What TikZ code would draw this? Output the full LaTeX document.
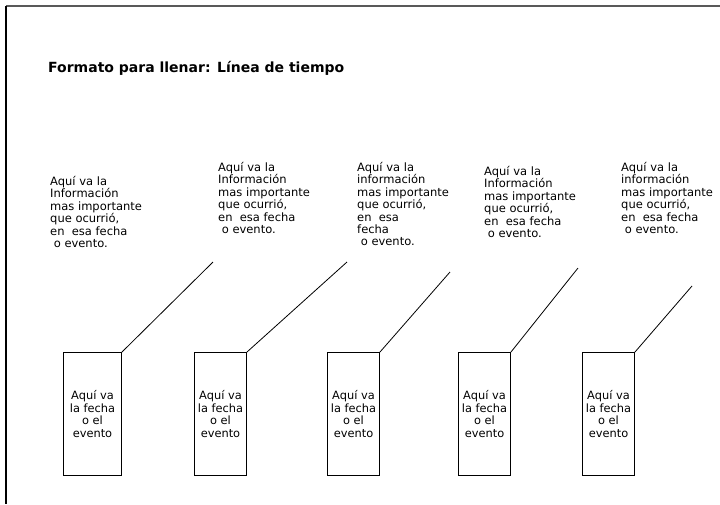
\documentclass[tikz,border=0pt]{standalone}
\usepackage{fontspec}
\setmainfont{DejaVu Sans}
\begin{document}
\begin{tikzpicture}[x=1pt,y=-1pt,
  info/.style={anchor=north west,inner sep=0pt,align=left,font=\fontsize{11.5}{12.4}\selectfont},
  datebox/.style={draw,line width=1pt,minimum width=52pt,minimum height=123pt,inner sep=0pt,align=center,font=\fontsize{11.4}{12.8}\selectfont,anchor=north west},
  link/.style={line width=0.8pt}]
\useasboundingbox (0,0) rectangle (720,504);
\draw[line width=2pt,gray!70!black] (6,6) -- (720,6);
\draw[line width=1.6pt] (6,6) -- (6,504);
\node[anchor=west,inner sep=0pt,font=\fontsize{14}{16}\selectfont\bfseries] (title) at (48,68) {Formato para llenar: Línea de tiempo};
\node[info] (t1) at (50,176) {Aquí va la\\Información\\mas importante\\que ocurrió,\\en~~esa fecha\\~o evento.};
\node[info] (t2) at (218,162) {Aquí va la\\Información\\mas importante\\que ocurrió,\\en~~esa fecha\\~o evento.};
\node[info] (t3) at (357,162) {Aquí va la\\información\\mas importante\\que ocurrió,\\en~~esa\\fecha\\~o evento.};
\node[info] (t4) at (484,166) {Aquí va la\\Información\\mas importante\\que ocurrió,\\en~~esa fecha\\~o evento.};
\node[info] (t5) at (621,162) {Aquí va la\\información\\mas importante\\que ocurrió,\\en~~esa fecha\\~o evento.};
\node[datebox,minimum width=58pt] (b1) at (63,352) {Aquí va\\la fecha\\o el\\evento};
\node[datebox] (b2) at (194,352) {Aquí va\\la fecha\\o el\\evento};
\node[datebox] (b3) at (327,352) {Aquí va\\la fecha\\o el\\evento};
\node[datebox] (b4) at (458,352) {Aquí va\\la fecha\\o el\\evento};
\node[datebox] (b5) at (582,352) {Aquí va\\la fecha\\o el\\evento};
\coordinate (e1) at (213,262);
\coordinate (e2) at (347,262);
\coordinate (e3) at (450,272);
\coordinate (e4) at (578,268);
\coordinate (e5) at (692,286);
\draw[link] (b1.north east) -- (e1);
\draw[link] (b2.north east) -- (e2);
\draw[link] (b3.north east) -- (e3);
\draw[link] (b4.north east) -- (e4);
\draw[link] (b5.north east) -- (e5);
\end{tikzpicture}
\end{document}
